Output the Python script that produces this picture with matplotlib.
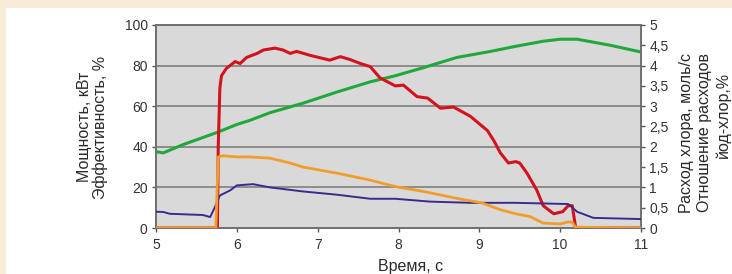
import matplotlib
matplotlib.use("Agg")
import matplotlib.pyplot as plt
from matplotlib.patches import Rectangle
from matplotlib.ticker import FixedLocator

plt.rcParams['font.family'] = ['Liberation Sans', 'DejaVu Sans']

# power, kW (left axis)
t_power = [5.0, 5.76, 5.77, 5.79, 5.81, 5.87, 5.98, 6.04, 6.12, 6.25, 6.33, 6.47, 6.57,
           6.66, 6.74, 6.91, 7.15, 7.28, 7.4, 7.53, 7.65, 7.77, 7.96, 8.06, 8.23, 8.36,
           8.52, 8.68, 8.89, 9.1, 9.18, 9.26, 9.36, 9.45, 9.5, 9.59, 9.71, 9.79, 9.92,
           10.03, 10.1, 10.15, 10.19, 10.2, 11.0]
power = [0, 0, 40, 69, 75, 78.6, 82, 81, 84, 86, 87.7, 88.6, 87.7,
         86, 87, 85, 82.7, 84.4, 83, 81, 79.5, 74, 70, 70.4, 64.7, 64,
         59, 59.6, 55, 48, 43, 37, 32, 32.7, 32, 27, 18.7, 11, 7,
         8, 11, 11, 0.5, 0, 0]

# efficiency, % (left axis)
t_eff = [5.0, 5.09, 5.33, 5.75, 6.0, 6.16, 6.41, 6.82, 7.24, 7.65, 7.96, 8.31, 8.72,
         9.14, 9.45, 9.79, 10.0, 10.21, 10.62, 11.0]
eff = [37.6, 37, 41, 47, 51, 53, 56.8, 61.5, 67, 72, 75, 79, 84,
       87, 89.5, 92, 93, 93, 90, 86.7]

# iodine-chlorine flow ratio (right axis)
t_ratio = [5.0, 5.74, 5.77, 5.83, 6.0, 6.16, 6.41, 6.66, 6.82, 7.24, 7.65, 7.96, 8.31,
           8.72, 9.03, 9.26, 9.45, 9.63, 9.79, 10.0, 10.1, 10.15, 10.19, 11.0]
ratio = [0, 0, 1.75, 1.78, 1.75, 1.75, 1.72, 1.6, 1.5, 1.35, 1.18, 1.02, 0.9,
         0.73, 0.62, 0.45, 0.35, 0.28, 0.12, 0.1, 0.15, 0.14, 0.02, 0]

# chlorine flow, mol/s (right axis)
t_cl = [5.0, 5.09, 5.17, 5.58, 5.67, 5.73, 5.79, 5.92, 6.0, 6.2, 6.41, 6.82, 7.24,
        7.65, 7.96, 8.39, 8.89, 9.45, 10.1, 10.21, 10.41, 11.0]
cl_flow = [0.4, 0.395, 0.35, 0.32, 0.27, 0.52, 0.8, 0.93, 1.05, 1.08, 1.0, 0.9, 0.82,
           0.72, 0.72, 0.65, 0.62, 0.62, 0.59, 0.4, 0.25, 0.22]

x_ticks = [5, 6, 7, 8, 9, 10, 11]
left_ticks = [0, 20, 40, 60, 80, 100]
right_ticks = [0, 0.5, 1, 1.5, 2, 2.5, 3, 3.5, 4, 4.5, 5]
right_labels = ['0', '0,5', '1', '1,5', '2', '2,5', '3', '3,5', '4', '4,5', '5']

W, H = 732, 274
fig = plt.figure(figsize=(W / 100, H / 100), dpi=100)
fig.patch.set_facecolor('#f8ebd7')
fig.patches.append(Rectangle((6 / W, 0), 1, 1 - 8 / H, transform=fig.transFigure,
                             facecolor='white', edgecolor='none', zorder=-5))

ax = fig.add_axes([156 / W, 46 / H, 485 / W, 203 / H])
ax.set_facecolor('#d9d9d9')
ax.set_xlim(5, 11)
ax.set_ylim(0, 100)
ax.set_xticks(x_ticks)
ax.set_yticks(left_ticks)
for y in left_ticks[1:-1]:
    ax.axhline(y, color='#7f7f7f', lw=1.2, zorder=1)

ax.plot(t_eff, eff, color='#20a83c', lw=2.2, zorder=3)
ax.plot(t_power, power, color='#d4121e', lw=2.2, zorder=3)

ax2 = ax.twinx()
ax2.set_ylim(0, 5)
ax2.yaxis.set_major_locator(FixedLocator(right_ticks))
ax2.set_yticklabels(right_labels)
ax2.plot(t_cl, cl_flow, color='#3a2a8e', lw=1.4, zorder=3)
ax2.plot(t_ratio, ratio, color='#f29c2c', lw=2.0, zorder=4)

for a in (ax, ax2):
    for s in a.spines.values():
        s.set_color('#707070')
        s.set_linewidth(1.2)
    a.tick_params(colors='#555555', labelcolor='#333333', labelsize=10,
                  length=3, width=1)
ax.tick_params(axis='y', pad=3)
ax.tick_params(axis='x', pad=4)
ax2.tick_params(axis='y', pad=3)

lab = dict(rotation=90, ha='center', va='center', fontsize=11.5, color='#2a2a2a')
fig.text(84 / W, 1 - 127 / H, 'Мощность, кВт', **lab)
fig.text(100 / W, 1 - 127 / H, 'Эффективность, %', **lab)
fig.text(686 / W, 1 - 133 / H, 'Расход хлора, моль/с', **lab)
fig.text(705 / W, 1 - 133 / H, 'Отношение расходов', **lab)
fig.text(723 / W, 1 - 115 / H, 'йод-хлор,%', **lab)
fig.text(411 / W, 1 - 267 / H, 'Время, с', ha='center', va='center',
         fontsize=11.5, color='#2a2a2a')

fig.savefig('out.png', dpi=100, facecolor=fig.get_facecolor())
